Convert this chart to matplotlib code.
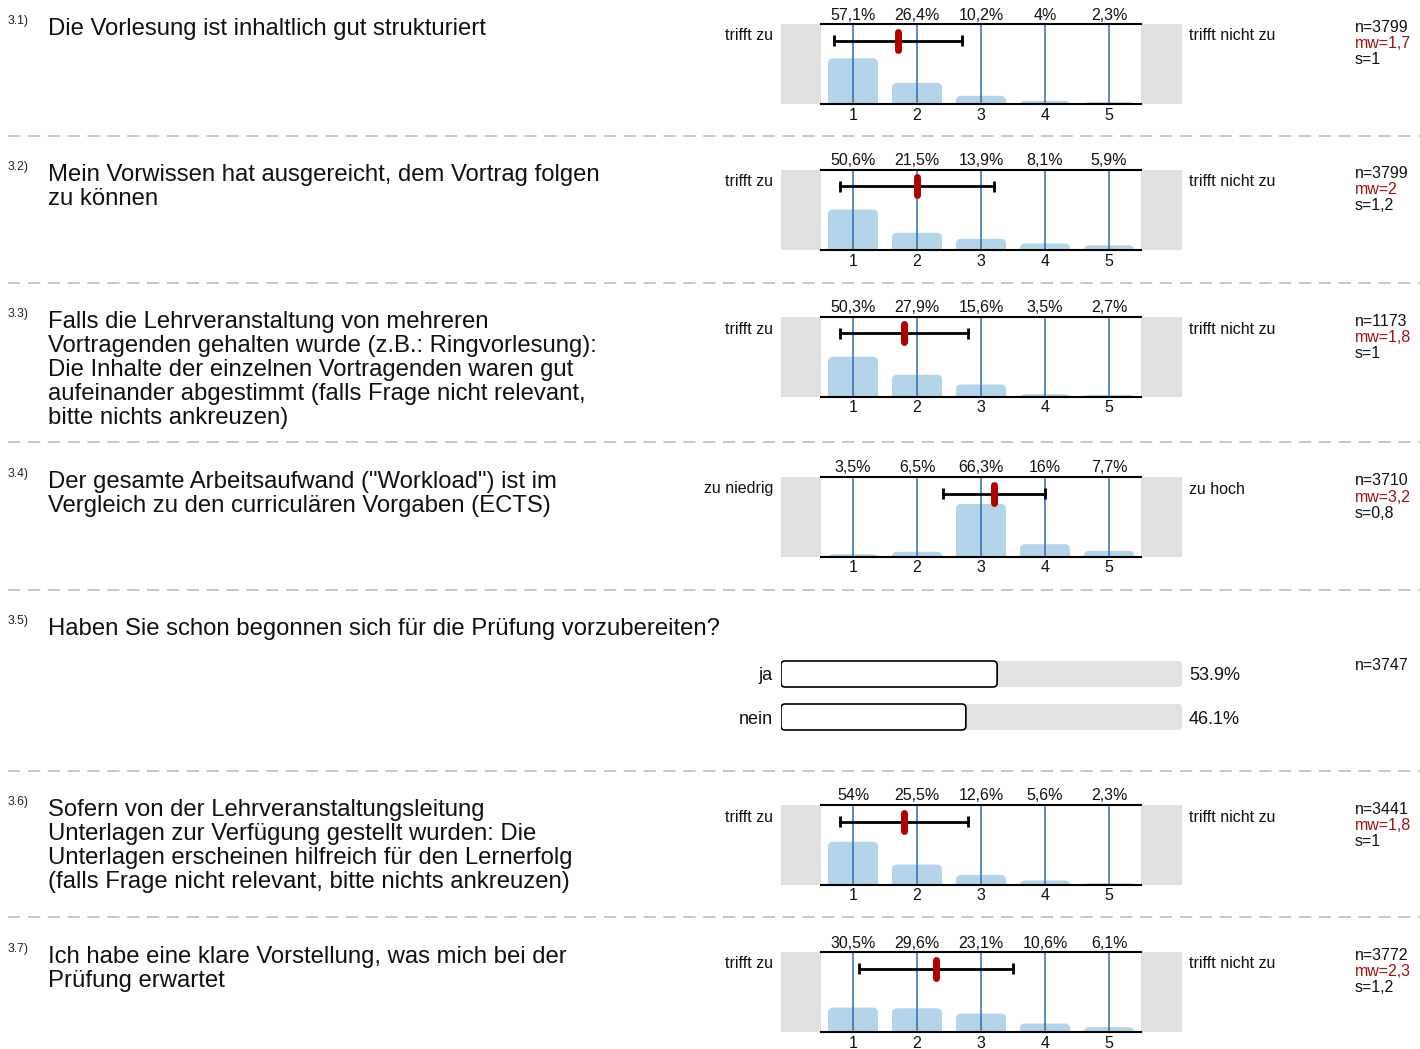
import matplotlib
matplotlib.use("Agg")
import matplotlib.pyplot as plt
from matplotlib.patches import FancyBboxPatch

plt.rcParams['font.family'] = ['Liberation Sans', 'DejaVu Sans']

# ---------------- data ----------------
q_numbers = ["3.1)", "3.2)", "3.3)", "3.4)", "3.5)", "3.6)", "3.7)"]
q_texts = [
    ["Die Vorlesung ist inhaltlich gut strukturiert"],
    ["Mein Vorwissen hat ausgereicht, dem Vortrag folgen", "zu können"],
    ["Falls die Lehrveranstaltung von mehreren",
     "Vortragenden gehalten wurde (z.B.: Ringvorlesung):",
     "Die Inhalte der einzelnen Vortragenden waren gut",
     "aufeinander abgestimmt (falls Frage nicht relevant,",
     "bitte nichts ankreuzen)"],
    ["Der gesamte Arbeitsaufwand (\"Workload\") ist im",
     "Vergleich zu den curriculären Vorgaben (ECTS)"],
    ["Haben Sie schon begonnen sich für die Prüfung vorzubereiten?"],
    ["Sofern von der Lehrveranstaltungsleitung",
     "Unterlagen zur Verfügung gestellt wurden: Die",
     "Unterlagen erscheinen hilfreich für den Lernerfolg",
     "(falls Frage nicht relevant, bitte nichts ankreuzen)"],
    ["Ich habe eine klare Vorstellung, was mich bei der",
     "Prüfung erwartet"],
]
scale_points = [1, 2, 3, 4, 5]
pct_31 = [57.1, 26.4, 10.2, 4.0, 2.3]
pct_32 = [50.6, 21.5, 13.9, 8.1, 5.9]
pct_33 = [50.3, 27.9, 15.6, 3.5, 2.7]
pct_34 = [3.5, 6.5, 66.3, 16.0, 7.7]
pct_36 = [54.0, 25.5, 12.6, 5.6, 2.3]
pct_37 = [30.5, 29.6, 23.1, 10.6, 6.1]
n_values = [3799, 3799, 1173, 3710, 3441, 3772]
mw_values = [1.7, 2.0, 1.8, 3.2, 1.8, 2.3]
s_values = [1.0, 1.2, 1.0, 0.8, 1.0, 1.2]
left_labels = ["trifft zu", "trifft zu", "trifft zu", "zu niedrig", "trifft zu", "trifft zu"]
right_labels = ["trifft nicht zu", "trifft nicht zu", "trifft nicht zu", "zu hoch",
                "trifft nicht zu", "trifft nicht zu"]
yn_labels = ["ja", "nein"]
yn_pct = [53.9, 46.1]
yn_n = 3747

# ---------------- layout ----------------
W, H = 1420, 1049
fig = plt.figure(figsize=(W / 100, H / 100), dpi=100)
fig.patch.set_facecolor('white')

DY = 2  # vertical text offset (px)


def fx(x):
    return x / W


def fy(y):
    return 1 - (y + DY) / H


def fmt_de(v):
    s = ("%.1f" % v)
    if s.endswith(".0"):
        s = s[:-2]
    return s.replace(".", ",")


SMALL = 11.5
QFONT = 17.2
GRAY_BG = '#e0e0e0'
BAR_BLUE = '#b4d4ea'
LINE_BLUE = '#2f6fae'
DARK_RED = '#b00000'
STAT_RED = '#a01010'
TXT = '#111111'

separators = [136, 283, 442, 590, 771, 917]
row_tops = [24, 170, 317, 477, 624, 805, 952]   # reference y of each question row
hist_rows = [0, 1, 2, 3, 5, 6]
hist_data = [pct_31, pct_32, pct_33, pct_34, pct_36, pct_37]

# separators
sep_ax = fig.add_axes([0, 0, 1, 1])
sep_ax.set_xlim(0, W)
sep_ax.set_ylim(H, 0)
sep_ax.axis('off')
for ys in separators:
    sep_ax.plot([8, 1420], [ys, ys], color='#b8b8b8', lw=1.1, dashes=(8, 5))

# question labels
for i, (num, lines) in enumerate(zip(q_numbers, q_texts)):
    top = row_tops[i]
    fig.text(fx(8), fy(top - 5), num, fontsize=8.8, ha='left', va='center', color='#222222')
    for j, line in enumerate(lines):
        fig.text(fx(48), fy(top + 3 + 24 * j), line, fontsize=QFONT,
                 ha='left', va='center', color=TXT)

# histogram panels
PX_X = 64.0
for k, ri in enumerate(hist_rows):
    top = row_tops[ri]
    pct = hist_data[k]
    ax = fig.add_axes([781 / W, 1 - (top + 80) / H, 401 / W, 80 / H])
    x0 = 1 + (781 - 853) / PX_X
    x1 = 1 + (1182 - 853) / PX_X
    ax.set_xlim(x0, x1)
    ax.set_ylim(0, 100)
    ax.axis('off')
    ax.axvspan(x0, 0.5, color=GRAY_BG, lw=0)
    ax.axvspan(5.5, x1, color=GRAY_BG, lw=0)
    ux = 1 / PX_X      # data units per pixel (x)
    uy = 100 / 80.0    # data units per pixel (y)
    bw = 50 * ux
    for xv, pv in zip(scale_points, pct):
        p = FancyBboxPatch((xv - bw / 2, -12), bw, pv + 12,
                           boxstyle="round,pad=0,rounding_size=%f" % (5 * ux),
                           mutation_aspect=uy / ux, facecolor=BAR_BLUE,
                           edgecolor='none', zorder=2)
        ax.add_patch(p)
    ax.vlines(scale_points, 0, 100, color=LINE_BLUE, lw=1.1, zorder=3)
    ax.plot([0.5, 5.5], [100, 100], color='black', lw=1.5, zorder=4, clip_on=False)
    ax.plot([0.5, 5.5], [0, 0], color='black', lw=1.5, zorder=4, clip_on=False)
    # error bar
    mw, s = mw_values[k], s_values[k]
    ye = 100 - 16.5 * uy
    ax.plot([mw - s, mw + s], [ye, ye], color='black', lw=2, zorder=5)
    ax.vlines([mw - s, mw + s], ye - 5.5 * uy, ye + 5.5 * uy, color='black', lw=2, zorder=5)
    ax.plot([mw, mw], [ye - 9 * uy, ye + 9 * uy], color=DARK_RED, lw=5,
            solid_capstyle='round', zorder=6)
    # labels
    for xv, pv in zip(scale_points, pct):
        ax.text(xv, 100 + (11 - DY) * uy, fmt_de(pv) + "%", ha='center', va='center',
                fontsize=SMALL, clip_on=False, color=TXT)
        ax.text(xv, -15.5 * uy, str(xv), ha='center', va='baseline',
                fontsize=SMALL, clip_on=False, color=TXT)
    fig.text(fx(773), fy(top + 10), left_labels[k], ha='right', va='center',
             fontsize=SMALL, color=TXT)
    fig.text(fx(1189), fy(top + 10), right_labels[k], ha='left', va='center',
             fontsize=SMALL, color=TXT)
    fig.text(fx(1355), fy(top + 2), "n=%d" % n_values[k], ha='left', va='center',
             fontsize=SMALL, color=TXT)
    fig.text(fx(1355), fy(top + 18), "mw=" + fmt_de(mw), ha='left', va='center',
             fontsize=SMALL, color=STAT_RED)
    fig.text(fx(1355), fy(top + 34), "s=" + fmt_de(s), ha='left', va='center',
             fontsize=SMALL, color=TXT)

# yes/no question 3.5
yb = [674, 717]
ax2 = fig.add_axes([781 / W, 1 - 740 / H, 401 / W, 90 / H])
ax2.set_xlim(0, 100)
ax2.set_ylim(740, 650)
ax2.axis('off')
ux2 = 100 / 401.0
bh = 26
for yc, pv, lab in zip(yb, yn_pct, yn_labels):
    bg = FancyBboxPatch((0, yc - bh / 2), 100, bh,
                        boxstyle="round,pad=0,rounding_size=%f" % (4 * ux2),
                        mutation_aspect=1 / ux2, facecolor='#e2e2e2',
                        edgecolor='none', zorder=1)
    ax2.add_patch(bg)
    fg = FancyBboxPatch((0, yc - bh / 2), pv, bh,
                        boxstyle="round,pad=0,rounding_size=%f" % (4 * ux2),
                        mutation_aspect=1 / ux2, facecolor='white',
                        edgecolor='black', lw=1.2, zorder=2)
    ax2.add_patch(fg)
    fig.text(fx(773), fy(yc), lab, ha='right', va='center', fontsize=13, color=TXT)
    fig.text(fx(1189), fy(yc), ("%.1f" % pv) + "%", ha='left', va='center',
             fontsize=13, color=TXT)
fig.text(fx(1355), fy(664), "n=%d" % yn_n, ha='left', va='center', fontsize=SMALL,
         color=TXT)

fig.savefig("out.png", dpi=100)
